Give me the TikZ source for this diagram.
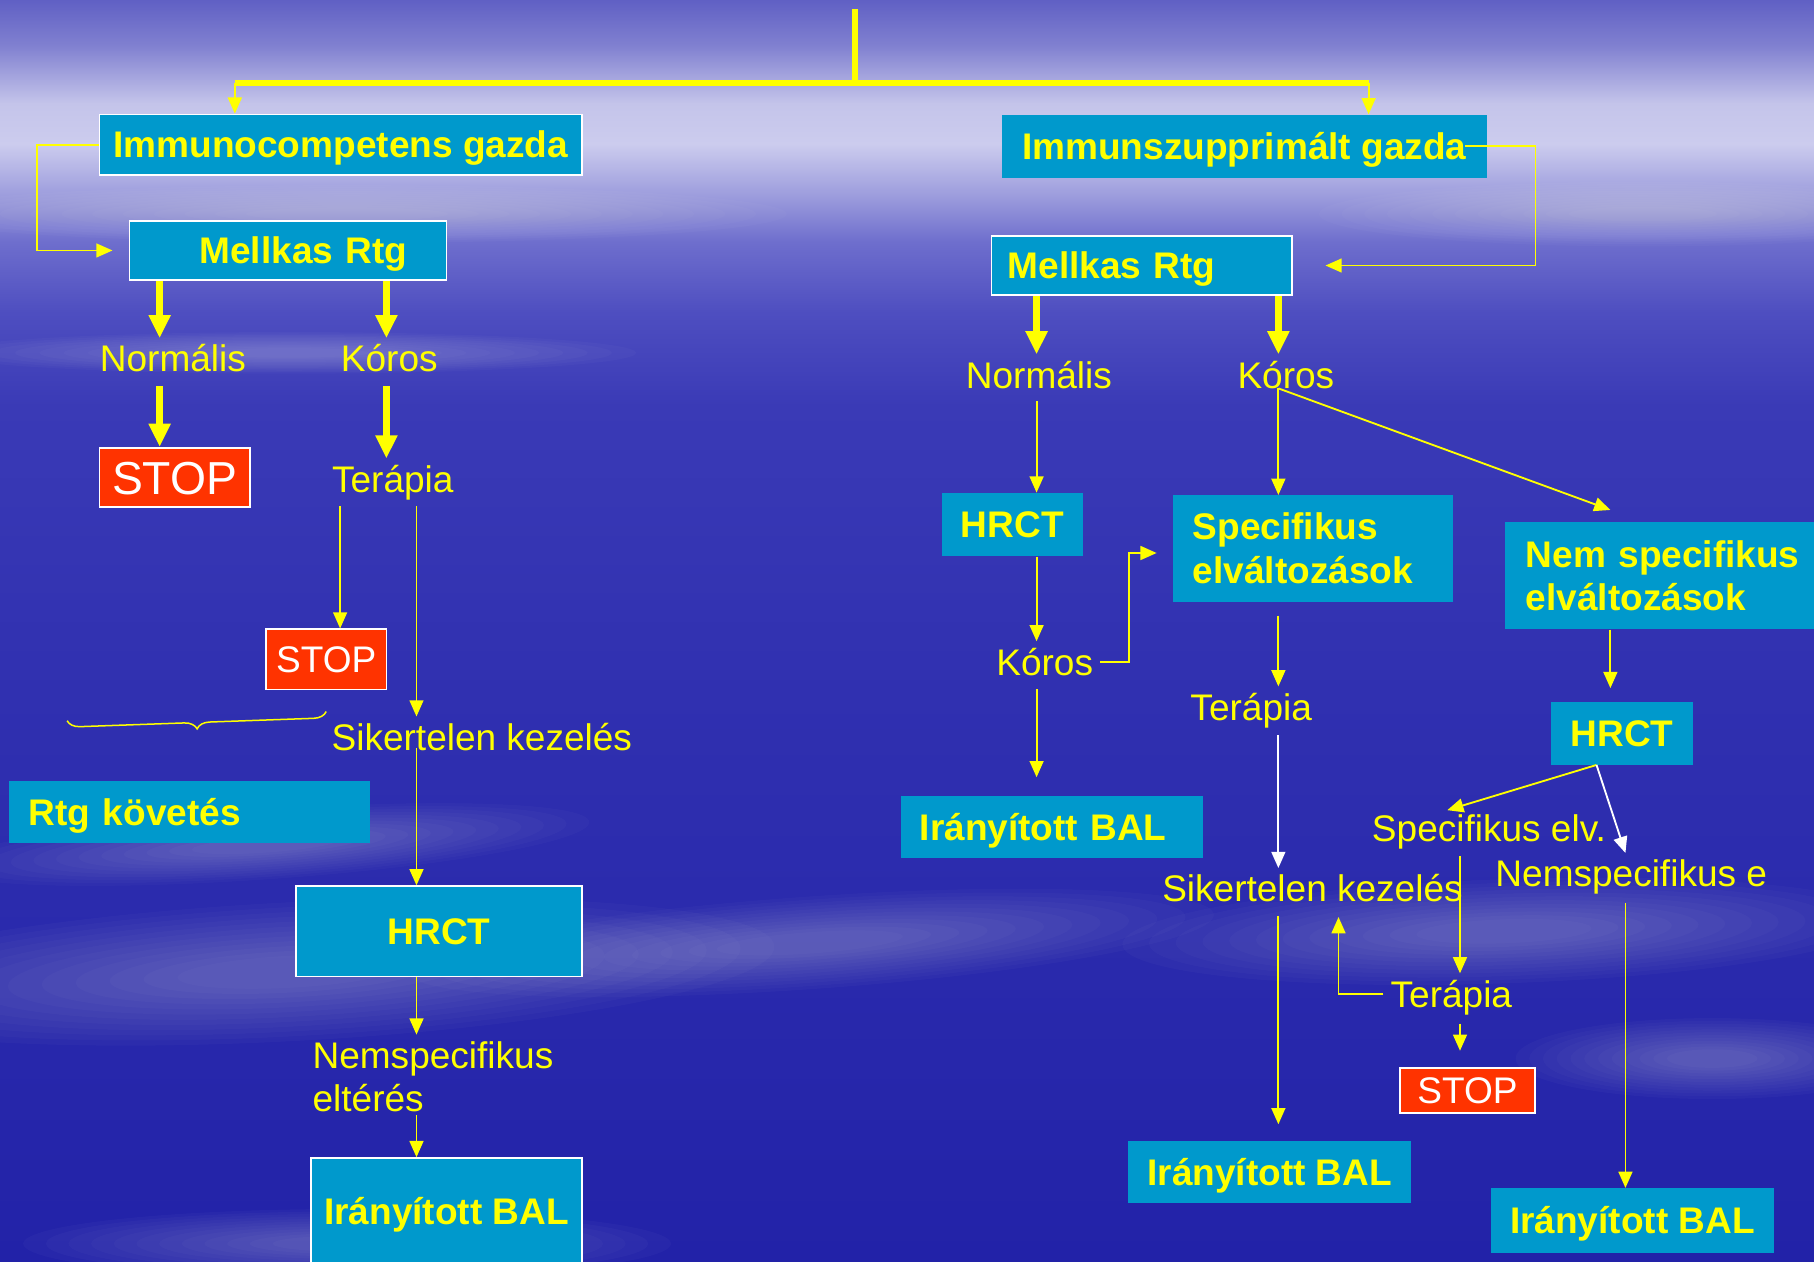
\documentclass[tikz,border=0pt]{standalone}
\usepackage{fontspec}
\setmainfont{Liberation Sans}
\usetikzlibrary{arrows.meta,calc,decorations.pathreplacing}

\definecolor{boxblue}{RGB}{0,153,204}
\definecolor{txtyel}{RGB}{255,255,0}
\definecolor{stopred}{RGB}{255,51,0}
\definecolor{skyA}{RGB}{96,96,196}
\definecolor{skyB}{RGB}{128,128,208}
\definecolor{skyC}{RGB}{196,196,234}
\definecolor{skyD}{RGB}{204,204,238}
\definecolor{skyE}{RGB}{160,160,222}
\definecolor{skyF}{RGB}{110,110,205}
\definecolor{skyG}{RGB}{78,78,192}
\definecolor{skyH}{RGB}{58,58,182}
\definecolor{skyI}{RGB}{48,48,176}
\definecolor{skyJ}{RGB}{34,34,168}

\pgfdeclareverticalshading{skyfade}{100bp}{color(0bp)=(skyJ); color(25bp)=(skyJ);
  color(47.5bp)=(skyI); color(58.9bp)=(skyH); color(62.6bp)=(skyG); color(65.4bp)=(skyF);
  color(67.4bp)=(skyE); color(69.3bp)=(skyD); color(70.9bp)=(skyC); color(73.2bp)=(skyB);
  color(75bp)=(skyA); color(100bp)=(skyA)}

\tikzset{
  box/.style={fill=boxblue, text=txtyel, font=\fontsize{32}{37.5}\selectfont\bfseries,
    inner sep=0pt, text height=23pt, text depth=0pt},
  wbox/.style={box, draw=white, line width=1.5pt},
  stopbox/.style={fill=stopred, draw=white, line width=1.5pt, text=white,
    font=\fontsize{32}{38}\selectfont, inner sep=0pt, text height=23pt, text depth=0pt},
  lbl/.style={text=txtyel, font=\fontsize{32}{37.5}\selectfont, inner sep=6pt,
    text height=23pt, text depth=0pt},
  tarrow/.style={color=txtyel, line width=1.6pt, -{Triangle[width=12pt,length=14pt]}},
  warrow/.style={tarrow, color=white},
  fatarrow/.style={color=txtyel, line width=6pt, -{Triangle[width=18pt,length=20pt]}},
  bar/.style={color=txtyel, line width=5pt},
  cloud/.style={fill=white, opacity=0.022}
}

\begin{document}
\begin{tikzpicture}[x=1pt,y=-1pt]

\useasboundingbox (0,0) rectangle (1568,1090);
\shade[shading=skyfade] (0,0) rectangle (1568,1090);
% soft cloud streaks
\foreach \cx/\cy/\rx/\ry/\rot in {250/840/420/60/3, 700/815/350/40/4, 1300/805/330/45/2,
    230/730/280/30/4, 1480/915/170/35/0, 300/1075/280/30/0,
    250/305/300/18/0, 1420/185/280/28/0, 300/185/380/25/0}
  \foreach \k in {1,0.93,...,0.2}
    \fill[cloud, rotate around={\rot:(\cx,\cy)}] (\cx,\cy) ellipse [x radius={\k*\rx*1pt}, y radius={\k*\ry*1pt}];

% columns
\coordinate (cA) at (203,0);
\coordinate (cB) at (1183,0);
\coordinate (c1) at (138,0);
\coordinate (c2) at (334,0);
\coordinate (c3) at (294,0);
\coordinate (c4) at (360,0);
\coordinate (c5) at (896,0);
\coordinate (c6) at (1105,0);
\coordinate (c7) at (1392,0);
\coordinate (c8) at (1262,0);
\coordinate (c9) at (1405,0);
\coordinate (title) at (739,8);
\coordinate (split) at (739,72);

% left branch
\node[wbox, minimum width=417pt, minimum height=52pt]	(imc) at (294.5,125)	{Immunocompetens gazda};
\node[wbox, minimum height=51pt, text width=206pt, align=right, inner xsep=34pt]	(mr1) at (249,216.5)	{Mellkas Rtg};
\node[lbl]	(norm1) at (149.5,310)	{Normális};
\node[lbl]	(kor1) at (336.5,310)	{Kóros};
\node[stopbox, font=\fontsize{40}{48}\selectfont, text height=29pt, minimum width=130pt, minimum height=51pt]	(stop1) at (151,412.5)	{STOP};
\node[lbl]	(ter1) at (339.5,414)	{Terápia};
\node[stopbox, minimum width=104pt, minimum height=52pt]	(stop2) at (282,570)	{STOP};
\node[lbl]	(sik1) at (416.5,637)	{Sikertelen kezelés};
\node[box, minimum height=54pt, text width=278pt, align=left, inner xsep=17pt]	(rtgk) at (164,702)	{Rtg követés};
\node[wbox, minimum width=247pt, minimum height=78pt]	(hrct1) at (379.5,805)	{HRCT};
\node[lbl, text width=215pt, align=left, text depth=38pt, anchor=west]	(nsel) at (264,931)	{Nemspecifikus\\eltérés};
\node[wbox, minimum width=234pt, minimum height=92pt]	(bal1) at (386,1047)	{Irányított BAL};

% right branch
\node[box, minimum width=419pt, minimum height=55pt]	(isg) at (1075.5,126.5)	{Immunszupprimált gazda};
\node[wbox, minimum height=51pt, text width=232pt, align=left, inner xsep=14pt]	(mr2) at (987,229.5)	{Mellkas Rtg};
\node[lbl]	(norm2) at (898,324)	{Normális};
\node[lbl]	(kor2) at (1111.5,324)	{Kóros};
\node[box, minimum width=122pt, minimum height=55pt]	(hrct2) at (875,453.5)	{HRCT};
\node[box, text width=208pt, inner xsep=17pt, align=left, minimum height=92pt, text depth=37.5pt]	(spec) at (1135,474)	{Specifikus\\elváltozások};
\node[box, text width=243pt, inner xsep=18pt, align=left, minimum height=93pt, text depth=37.5pt]	(nspec) at (1440.5,497.5)	{Nem specifikus\\elváltozások};
\node[lbl]	(kor3) at (903,572)	{Kóros};
\node[lbl]	(ter2) at (1081.5,611)	{Terápia};
\node[box, minimum width=122pt, minimum height=54pt]	(hrct3) at (1402,634)	{HRCT};
\node[box, minimum height=54pt, text width=229pt, align=left, inner xsep=16pt]	(bal2) at (909.5,715)	{Irányított BAL};
\node[lbl]	(specelv) at (1287,716)	{Specifikus elv.};
\node[lbl]	(nse) at (1410,755)	{Nemspecifikus e};
\node[lbl]	(sik2) at (1134.5,768)	{Sikertelen kezelés};
\node[lbl]	(ter3) at (1254.5,859)	{Terápia};
\node[stopbox, minimum width=117pt, minimum height=39pt]	(stop3) at (1268.5,942.5)	{STOP};
\node[box, minimum width=245pt, minimum height=54pt]	(bal3) at (1097.5,1013)	{Irányított BAL};
\node[box, minimum width=244pt, minimum height=56pt]	(bal4) at (1411,1055)	{Irányított BAL};

% top split
\draw[bar] (title) -- (split);
\draw[bar] (split -| cA) -- (split -| cB);
\path[tarrow]	(split -| cA) edge (imc.north -| cA)
				(split -| cB) edge (isg.north -| cB);

% left connectors
\draw[tarrow] (imc.west) -- ++(-53,0) |- ($(mr1.west)+(-14,0)$);
\path[fatarrow]	(mr1.south -| c1) edge (norm1.north -| c1)
				(mr1.south -| c2) edge (kor1.north -| c2)
				(norm1.south -| c1) edge[shorten <=6pt] (stop1.north -| c1)
				(kor1.south -| c2) edge[shorten <=6pt] (ter1.north -| c2);
\path[tarrow]	(ter1.south -| c3) edge[shorten <=6pt] (stop2.north -| c3)
				(ter1.south -| c4) edge[shorten <=6pt] (sik1.north -| c4)
				(sik1.south -| c4) edge[shorten <=-8pt] (hrct1.north -| c4)
				(hrct1.south -| c4) edge (nsel.north -| c4)
				(nsel.south -| c4) edge[shorten <=-4pt] (bal1.north -| c4);
\draw[txtyel, line width=1.3pt, decorate, decoration={brace, amplitude=11pt}] (282,615) -- (58,623);

% right connectors
\draw[tarrow] ([xshift=-19pt]isg.east) -- ++(61,0) |- ($(mr2.east)+(28,0)$);
\path[fatarrow]	(mr2.south -| c5) edge (norm2.north -| c5)
				(mr2.south -| c6) edge (kor2.north -| c6);
\path[tarrow]	(norm2.south -| c5) edge[shorten <=5pt] (hrct2.north -| c5)
				(kor2.south -| c6) edge[shorten <=-6pt] (spec.north -| c6)
				(hrct2.south -| c5) edge (kor3.north -| c5)
				(kor3.south -| c5) edge[shorten <=6pt, shorten >=16pt] (bal2.north -| c5)
				(spec.south -| c6) edge[shorten <=12pt] (ter2.north -| c6)
				(sik2.south -| c6) edge[shorten <=6pt, shorten >=14pt] (bal3.north -| c6)
				(nspec.south -| c7) edge[shorten >=12pt] (hrct3.north -| c7)
				(specelv.south -| c8) edge[shorten <=6pt] (ter3.north -| c8)
				(ter3.south -| c8) edge[shorten <=8pt, shorten >=14pt] (stop3.north -| c8)
				(nse.south -| c9) edge[shorten <=8pt] (bal4.north -| c9);
\draw[tarrow] ($(kor2.south -| c6)+(0,-6)$) -- ($(nspec.north -| c7)+(0,-10)$);
\draw[tarrow] (kor3.east) -- ++(25,0) |- ($(spec.west)+(-14,4)$);
\draw[warrow, shorten <=7pt] (ter2.south -| c6) -- (sik2.north -| c6);
\draw[tarrow] ($(hrct3.south)+(-22,0)$) -- ($(specelv.north)+(-36,2)$);
\draw[warrow] ($(hrct3.south)+(-22,0)$) -- (nse.north -| c9);
\draw[tarrow] (ter3.west) -| ($(sik2.south)+(22.5,7)$);

\end{tikzpicture}
\end{document}
